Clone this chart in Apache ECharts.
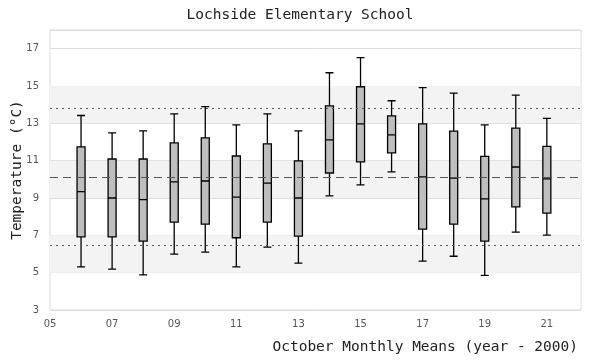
<!DOCTYPE html>
<html>
<head>
<meta charset="utf-8">
<script src="https://cdn.jsdelivr.net/npm/echarts@6/dist/echarts.min.js"></script>
<style>html,body{margin:0;padding:0;background:#fff}#c{width:600px;height:360px}</style>
</head>
<body>
<div id="c"></div>
<script>
// Years (year - 2000)
const years = [6, 7, 8, 9, 10, 11, 12, 13, 14, 15, 16, 17, 18, 19, 20, 21];
const whiskerLow  = [5.31, 5.19, 4.88, 5.99, 6.10, 5.31, 6.37, 5.51, 9.11, 9.70, 10.40, 5.62, 5.88, 4.86, 7.17, 7.01];
const q1          = [6.92, 6.92, 6.69, 7.71, 7.60, 6.87, 7.71, 6.96, 10.34, 10.93, 11.42, 7.33, 7.60, 6.69, 8.52, 8.19];
const medians     = [9.34, 9.00, 8.91, 9.86, 9.91, 9.05, 9.80, 9.00, 12.11, 12.97, 12.38, 10.13, 10.07, 8.95, 10.66, 10.02];
const q3          = [11.74, 11.09, 11.09, 11.95, 12.22, 11.25, 11.90, 10.99, 13.94, 14.96, 13.40, 12.97, 12.58, 11.23, 12.74, 11.77];
const whiskerHigh = [13.42, 12.49, 12.60, 13.51, 13.89, 12.92, 13.51, 12.60, 15.71, 16.52, 14.21, 14.91, 14.62, 12.92, 14.51, 13.27];
// Reference lines: lower, mean, upper
const refLower = 6.47;
const refMean = 10.13;
const refUpper = 13.83;
const yTicks = [3, 5, 7, 9, 11, 13, 15, 17];

const boxData = years.map((y, i) => [y, whiskerLow[i], q1[i], medians[i], q3[i], whiskerHigh[i]]);

const bands = [];
for (let v = yTicks[1]; v + 2 < 18; v += 4) bands.push([{ yAxis: v }, { yAxis: v + 2 }]);

const mono = '"DejaVu Sans Mono", monospace';
const chart = echarts.init(document.getElementById('c'), null, { renderer: 'canvas' });
chart.setOption({
  animation: false,
  backgroundColor: '#ffffff',
  title: {
    text: 'Lochside Elementary School',
    left: 'center',
    top: 3,
    textStyle: { fontFamily: mono, fontSize: 14.5, fontWeight: 'normal', color: '#222' }
  },
  grid: { left: 50, right: 19, top: 30, bottom: 50, show: true, borderColor: '#dddddd', borderWidth: 1, containLabel: false, outerBoundsMode: 'none' },
  xAxis: {
    type: 'value',
    min: 5, max: 22.1, interval: 2,
    name: 'October Monthly Means (year - 2000)',
    nameLocation: 'end',
    nameGap: 0,
    nameMoveOverlap: false,
    nameTextStyle: { fontFamily: mono, fontSize: 14.5, color: '#222', align: 'right', verticalAlign: 'top', padding: [30, 3, 0, 0] },
    axisLine: { show: false },
    axisTick: { show: false },
    splitLine: { show: false },
    axisLabel: {
      showMaxLabel: false,
      margin: 9,
      color: '#555', fontSize: 10, fontFamily: 'DejaVu Sans',
      formatter: v => (v < 10 ? '0' : '') + v
    }
  },
  yAxis: {
    type: 'value',
    min: 3, max: 18, interval: 2,
    name: 'Temperature (°C)',
    nameLocation: 'middle',
    nameGap: 25,
    nameMoveOverlap: false,
    nameTextStyle: { fontFamily: mono, fontSize: 14.5, color: '#222' },
    axisLine: { show: false },
    axisTick: { show: false },
    splitLine: { show: true, lineStyle: { color: '#dddddd', width: 1 } },
    axisLabel: { showMaxLabel: false, margin: 11, color: '#555', fontSize: 10, fontFamily: 'DejaVu Sans' }
  },
  series: [{
    type: 'boxplot',
    data: boxData,
    boxWidth: [8, 8],
    itemStyle: { color: '#bebebe', borderColor: '#000', borderWidth: 1.3 },
    markArea: {
      silent: true,
      itemStyle: { color: '#f3f3f3' },
      data: bands
    },
    markLine: {
      silent: true,
      symbol: 'none',
      label: { show: false },
      data: [
        { yAxis: refUpper, lineStyle: { type: [2, 4], color: '#555', width: 1 } },
        { yAxis: refMean, lineStyle: { type: [8, 5], color: '#555', width: 1 } },
        { yAxis: refLower, lineStyle: { type: [2, 4], color: '#555', width: 1 } }
      ]
    }
  }]
});
</script>
</body>
</html>
